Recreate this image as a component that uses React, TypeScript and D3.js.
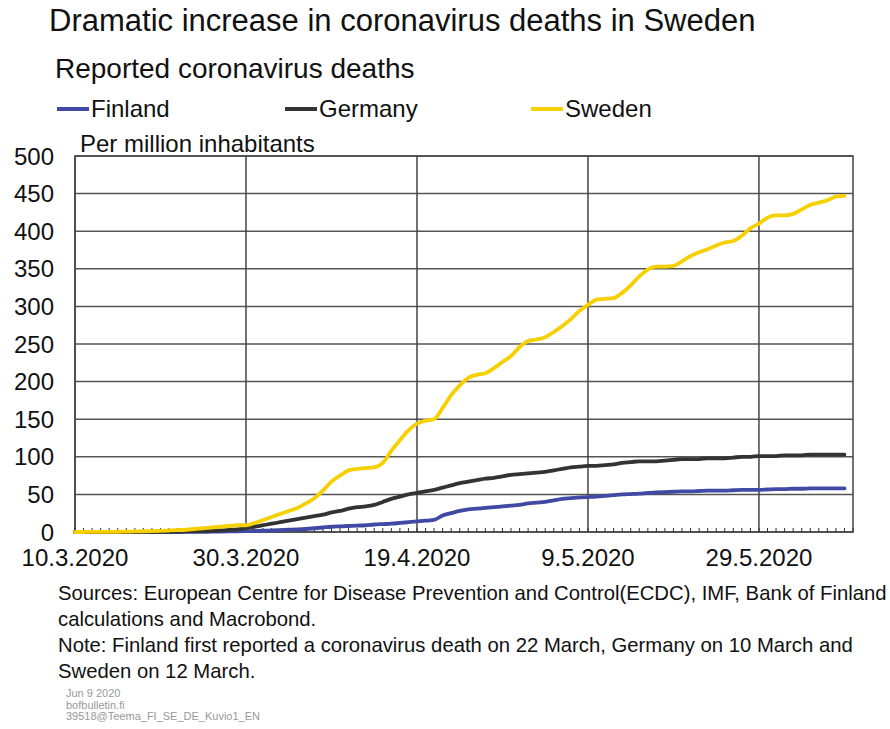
import React from "react";
import * as d3 from "d3";

const title = "Dramatic increase in coronavirus deaths in Sweden";
const subtitle = "Reported coronavirus deaths";
const unitLabel = "Per million inhabitants";
const startDate = "2020-03-10";
const endDate = "2020-06-09";
const xTickLabels = ["10.3.2020", "30.3.2020", "19.4.2020", "9.5.2020", "29.5.2020"];
const xTickDates = ["2020-03-10", "2020-03-30", "2020-04-19", "2020-05-09", "2020-05-29"];
const yTicks = [0, 50, 100, 150, 200, 250, 300, 350, 400, 450, 500];

const seriesNames = ["Finland", "Germany", "Sweden"];
const seriesColors = ["#4049a3", "#333333", "#f6d000"];

// daily values per million inhabitants, from 10 March 2020
const finland = [
  0, 0, 0, 0, 0, 0, 0, 0, 0, 0,
  0, 0, 0, 0.1, 0.2, 0.3, 0.4, 0.6, 0.8, 1,
  1.2, 1.5, 1.8, 2.2, 2.6, 3, 3.4, 4, 5, 6,
  7, 7.5, 8, 8.5, 9, 10, 10.5, 11, 12, 13,
  14, 15, 16, 22, 25, 28, 30, 31, 32, 33,
  34, 35, 36, 38, 39, 40, 42, 44, 45, 46,
  46.5, 47, 48, 49, 50, 50.5, 51, 52, 52.5, 53,
  53.5, 54, 54, 54.5, 55, 55, 55, 55.5, 56, 56,
  56, 56.5, 57, 57, 57.5, 57.5, 58, 58, 58, 58,
  58,
];
const germany = [
  0, 0, 0, 0, 0, 0, 0, 0.1, 0.1, 0.2,
  0.3, 0.4, 0.5, 0.7, 0.9, 1.2, 1.5, 2, 2.8, 3.5,
  5, 7, 9, 11, 13, 15, 17, 19, 21, 23,
  26, 28, 31, 33, 34, 36, 40, 44, 47, 50,
  52, 54, 56, 59, 62, 65, 67, 69, 71, 72,
  74, 76, 77, 78, 79, 80, 82, 84, 86, 87,
  88, 88, 89, 90, 92, 93, 94, 94, 94, 95,
  96, 97, 97, 97, 98, 98, 98, 99, 100, 100,
  101, 101, 101, 102, 102, 102, 103, 103, 103, 103,
  103,
];
const sweden = [
  0, 0, 0.1, 0.1, 0.2, 0.3, 0.5, 0.7, 1, 1.2,
  1.5, 2, 2.5, 3, 4, 5, 6, 7, 8, 9,
  9, 12, 16, 20, 24, 28, 32, 38, 45, 55,
  67, 75, 82, 84, 85, 86, 92, 108, 122, 135,
  144, 148, 150, 165, 182, 195, 205, 209, 211, 218,
  226, 234, 246, 254, 256, 259, 266, 274, 283, 294,
  302, 309, 310, 311, 318, 328, 340, 349, 353, 353,
  354, 360, 367, 372, 376, 381, 385, 387, 394, 404,
  410, 418, 421, 421, 423, 429, 435, 438, 441, 446,
  447,
];
const seriesValues = [finland, germany, sweden];

const sourceLines = [
  "Sources: European Centre for Disease Prevention and Control(ECDC), IMF, Bank of Finland",
  "calculations and Macrobond.",
  "Note: Finland first reported a coronavirus death on 22 March, Germany on 10 March and",
  "Sweden on 12 March.",
];
const footerLines = ["Jun 9 2020", "bofbulletin.fi", "39518@Teema_FI_SE_DE_Kuvio1_EN"];

const W = 890;
const H = 729;
const M = { left: 75, right: 853, top: 156, bottom: 532 };
const FONT = "'Liberation Sans', Arial, sans-serif";

export default function App() {
  const parse = d3.utcParse("%Y-%m-%d");
  const t0 = parse(startDate) as Date;
  const t1 = parse(endDate) as Date;
  const x = d3.scaleUtc().domain([t0, t1]).range([M.left, M.right]);
  const y = d3.scaleLinear().domain([0, 500]).range([M.bottom, M.top]);
  const days = d3.utcDay.range(t0, d3.utcDay.offset(t1, 1));
  const labelDates = xTickDates.map((s) => parse(s) as Date);

  const line = d3
    .line<number>()
    .x((_, i) => x(d3.utcDay.offset(t0, i)))
    .y((v) => y(v))
    .curve(d3.curveMonotoneX);

  const legendX = [57, 285, 531];

  return (
    <svg
      width={W}
      height={H}
      viewBox={`0 0 ${W} ${H}`}
      style={{ position: "absolute", left: 0, top: 0, background: "#fff" }}
      fontFamily={FONT}
    >
      <rect x={0} y={0} width={W} height={H} fill="#fff" />
      <text x={49} y={31} fontSize={31} fill="#111">{title}</text>
      <text x={55} y={78} fontSize={28} fill="#111">{subtitle}</text>

      {seriesNames.map((n, i) => (
        <g key={n}>
          <line x1={legendX[i]} x2={legendX[i] + 32} y1={109} y2={109} stroke={seriesColors[i]} strokeWidth={4} />
          <text x={legendX[i] + 34} y={117} fontSize={24} fill="#111">{n}</text>
        </g>
      ))}

      <text x={80} y={152} fontSize={24} fill="#111">{unitLabel}</text>

      {/* horizontal gridlines */}
      {yTicks.map((v) => (
        <line key={v} x1={M.left} x2={M.right} y1={y(v)} y2={y(v)} stroke="#555" strokeWidth={1.5} />
      ))}
      {/* vertical gridlines */}
      {labelDates.map((d, i) => (
        <line key={i} x1={x(d)} x2={x(d)} y1={M.top} y2={M.bottom} stroke="#444" strokeWidth={1.5} />
      ))}
      {/* frame */}
      <rect x={M.left} y={M.top} width={M.right - M.left} height={M.bottom - M.top} fill="none" stroke="#444" strokeWidth={1.5} />

      {/* daily ticks */}
      {days.map((d, i) => (
        <line key={i} x1={x(d)} x2={x(d)} y1={M.bottom} y2={M.bottom - 4} stroke="#333" strokeWidth={1} />
      ))}

      {/* y labels */}
      {yTicks.map((v) => (
        <text key={v} x={54} y={y(v) + 8.5} fontSize={24} textAnchor="end" fill="#111">{v}</text>
      ))}
      {/* x labels */}
      {labelDates.map((d, i) => (
        <text key={i} x={x(d)} y={566} fontSize={24} textAnchor="middle" fill="#111">{xTickLabels[i]}</text>
      ))}

      {seriesValues.map((vals, i) => (
        <path key={i} d={line(vals) || ""} fill="none" stroke={seriesColors[i]} strokeWidth={3.8} strokeLinejoin="round" strokeLinecap="round" />
      ))}

      {sourceLines.map((s, i) => (
        <text key={i} x={58} y={600 + i * 26} fontSize={20.3} fill="#111">{s}</text>
      ))}
      {footerLines.map((s, i) => (
        <text key={i} x={66} y={697 + i * 11.5} fontSize={11} fill="#999">{s}</text>
      ))}
    </svg>
  );
}
